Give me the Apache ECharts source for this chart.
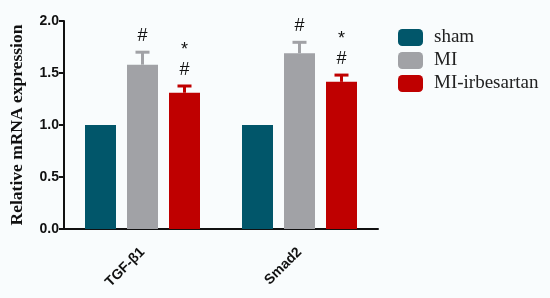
<!DOCTYPE html>
<html>
<head>
<meta charset="utf-8">
<script src="https://cdn.jsdelivr.net/npm/echarts@6/dist/echarts.min.js"></script>
<style>
  html, body { margin: 0; padding: 0; background: #f9fcfd; }
  #chart { width: 550px; height: 298px; }
</style>
</head>
<body>
<div id="chart"></div>
<script>
// data
const genes = ['TGF-β1', 'Smad2'];
const groups = ['sham', 'MI', 'MI-irbesartan'];
const colors = ['#01566a', '#a1a2a6', '#bf0000'];
const means = [
  [1.0, 1.0],    // sham
  [1.58, 1.69],  // MI
  [1.31, 1.415]  // MI-irbesartan
];
const errs = [
  [0, 0],
  [0.12, 0.105],
  [0.065, 0.065]
];
// significance marks shown above each bar
const marks = [
  ['', ''],
  ['#', '#'],
  ['*\n#', '*\n#']
];

const barW = 31;
const barGap = 11;

const chart = echarts.init(document.getElementById('chart'));

const series = [];
groups.forEach(function (g, i) {
  series.push({
    name: g,
    type: 'bar',
    data: means[i],
    barWidth: barW,
    barGap: (barGap / barW * 100) + '%',
    itemStyle: { color: colors[i] },
    z: 2
  });
});

// error bars + marks
groups.forEach(function (g, i) {
  series.push({
    type: 'custom',
    data: genes.map(function (c, j) { return [j, means[i][j], errs[i][j]]; }),
    z: 3,
    silent: true,
    renderItem: function (params, api) {
      const j = api.value(0);
      const m = api.value(1);
      const e = api.value(2);
      const mk = marks[i][j];
      const base = api.coord([j, m]);
      const top = api.coord([j, m + e]);
      const x = base[0] + (i - 1) * (barW + barGap);
      const children = [];
      if (e > 0) {
        children.push({
          type: 'line',
          shape: { x1: x, y1: base[1], x2: x, y2: top[1] },
          style: { stroke: colors[i], lineWidth: 3 }
        });
        children.push({
          type: 'line',
          shape: { x1: x - 7, y1: top[1], x2: x + 7, y2: top[1] },
          style: { stroke: colors[i], lineWidth: 3 }
        });
      }
      if (mk) {
        children.push({
          type: 'text',
          style: {
            x: x,
            y: top[1] - 6,
            text: mk,
            align: 'center',
            verticalAlign: 'bottom',
            font: '18px "Liberation Sans", Arial, sans-serif',
            lineHeight: 20,
            fill: '#111'
          }
        });
      }
      return { type: 'group', children: children };
    }
  });
});

chart.setOption({
  backgroundColor: '#f9fcfd',
  animation: false,
  grid: { left: 60, right: 172, top: 21, bottom: 69 },
  legend: {
    orient: 'vertical',
    left: 393,
    top: 23,
    itemWidth: 25,
    itemHeight: 17,
    itemGap: 4,
    icon: 'roundRect',
    data: groups,
    textStyle: {
      fontFamily: '"Liberation Serif", "Times New Roman", serif',
      fontSize: 19,
      color: '#222',
      padding: [0, 0, 0, 6]
    }
  },
  xAxis: {
    type: 'category',
    data: genes,
    axisLine: { lineStyle: { color: '#111', width: 2 } },
    axisTick: { alignWithLabel: true, length: 6, lineStyle: { color: '#111', width: 2 } },
    axisLabel: {
      rotate: 45,
      margin: 21,
      color: '#111',
      fontWeight: 'bold',
      fontSize: 14,
      fontFamily: '"Liberation Sans", Arial, sans-serif'
    }
  },
  yAxis: {
    type: 'value',
    min: 0,
    max: 2,
    interval: 0.5,
    name: 'Relative mRNA expression',
    nameLocation: 'middle',
    nameGap: 38,
    nameTextStyle: {
      fontFamily: '"Liberation Serif", "Times New Roman", serif',
      fontWeight: 'bold',
      fontSize: 17.5,
      color: '#111'
    },
    splitLine: { show: false },
    axisLine: { show: true, lineStyle: { color: '#111', width: 2 } },
    axisTick: { show: true, length: 5, lineStyle: { color: '#111', width: 2 } },
    axisLabel: {
      margin: 5,
      color: '#111',
      fontWeight: 'bold',
      fontSize: 14,
      fontFamily: '"Liberation Sans", Arial, sans-serif',
      formatter: function (v) { return v.toFixed(1); }
    }
  },
  series: series
});
</script>
</body>
</html>
